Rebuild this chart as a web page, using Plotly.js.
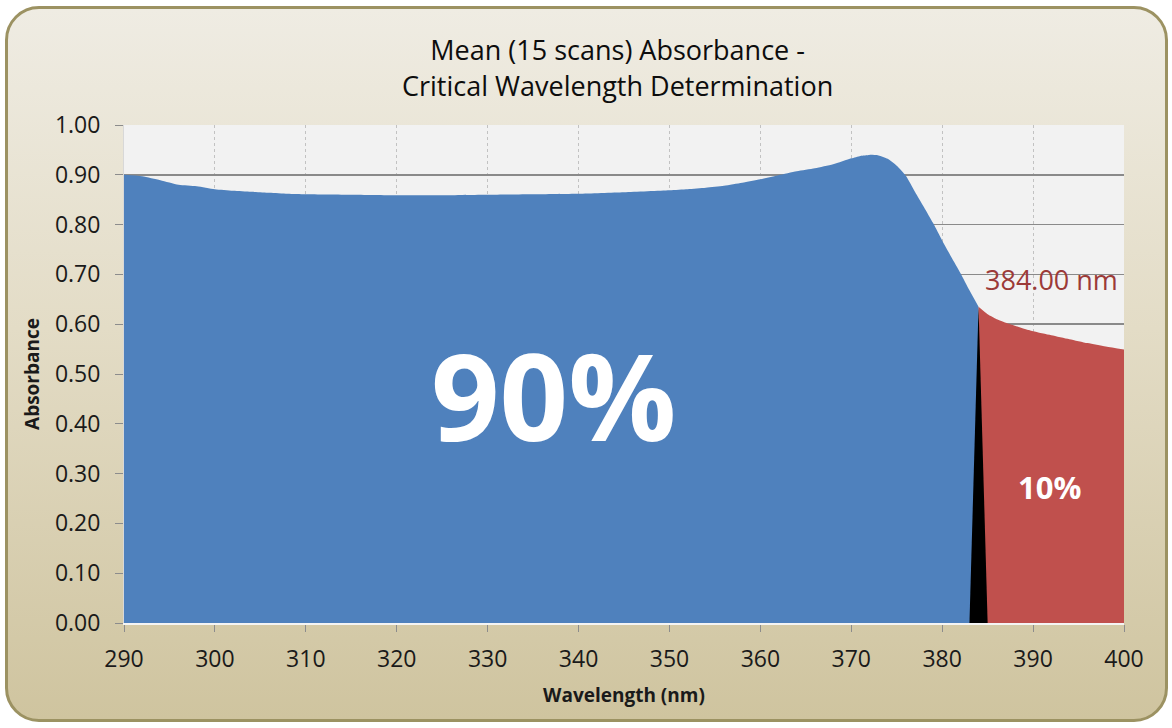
<!DOCTYPE html>
<html>
<head>
<meta charset="utf-8">
<script src="https://cdn.plot.ly/plotly-3.0.1.min.js"></script>
<style>
  html, body { margin:0; padding:0; width:1172px; height:728px; overflow:hidden; background:#ffffff; }
  #frame { position:absolute; left:5px; top:6px; width:1157px; height:710px;
           border:3px solid #9c9262; border-radius:34px;
           background:linear-gradient(to bottom, #efece3 0%, #e3dcc6 45%, #cfc49f 100%); }
  #chart { position:absolute; left:0; top:0; width:1172px; height:728px; }
</style>
</head>
<body>
<div id="frame"></div>
<div id="chart"></div>
<script>
// Wavelength (nm) and mean absorbance
const wavelength = [290,292,294,296,298,300,302,304,306,308,310,315,320,325,330,335,340,345,350,352,354,356,358,360,362,364,366,368,370,371,372,373,374,375,376,377,378,379,380,381,382,383,384,385,386,387,388,389,390,392,394,396,398,400];
const absorbance = [0.900,0.897,0.889,0.880,0.877,0.871,0.868,0.866,0.864,0.862,0.861,0.860,0.859,0.859,0.860,0.861,0.862,0.865,0.869,0.871,0.874,0.878,0.884,0.891,0.899,0.907,0.913,0.921,0.933,0.938,0.940,0.939,0.932,0.918,0.898,0.866,0.835,0.803,0.768,0.735,0.703,0.668,0.635,0.620,0.610,0.603,0.597,0.591,0.586,0.578,0.570,0.562,0.555,0.549];
const criticalWavelength = 384;
const markerWavelengths = [383, 384, 385];
const xTicks = [290,300,310,320,330,340,350,360,370,380,390,400];
const yTicks = [0,0.1,0.2,0.3,0.4,0.5,0.6,0.7,0.8,0.9,1.0];
const yTickLabels = ["0.00","0.10","0.20","0.30","0.40","0.50","0.60","0.70","0.80","0.90","1.00"];
const labelBelow = "90%";
const labelAbove = "10%";
const critLabel = "384.00 nm";

const blueX = [], blueY = [], redX = [], redY = [];
wavelength.forEach((w, i) => {
  if (w <= criticalWavelength) { blueX.push(w); blueY.push(absorbance[i]); }
  if (w >= criticalWavelength) { redX.push(w); redY.push(absorbance[i]); }
});
const critValue = absorbance[wavelength.indexOf(criticalWavelength)];
const markX = markerWavelengths;
const markY = markerWavelengths.map(w => w === criticalWavelength ? critValue : 0);

const traces = [
  { x: blueX, y: blueY, type:'scatter', mode:'lines', fill:'tozeroy',
    line:{color:'#4f81bd', width:0, shape:'spline', smoothing:0.6}, fillcolor:'#4f81bd', hoverinfo:'skip' },
  { x: redX, y: redY, type:'scatter', mode:'lines', fill:'tozeroy',
    line:{color:'#c0504d', width:0, shape:'spline', smoothing:0.6}, fillcolor:'#c0504d', hoverinfo:'skip' },
  { x: markX, y: markY, type:'scatter', mode:'lines', fill:'toself',
    line:{color:'#000000', width:0}, fillcolor:'#000000', hoverinfo:'skip' }
];

const font = "'Open Sans', 'Noto Sans', sans-serif";
const layout = {
  width:1172, height:728,
  margin:{l:124, r:48, t:125, b:105},
  paper_bgcolor:'rgba(0,0,0,0)',
  plot_bgcolor:'#f2f2f2',
  showlegend:false,
  title:{ text:'Mean (15 scans) Absorbance -<br>Critical Wavelength Determination',
          font:{family:font, size:27, color:'#0d0d0d'},
          x:0.527, xref:'container', xanchor:'center',
          y:0.917, yref:'container', yanchor:'middle' },
  xaxis:{ range:[290,400], tickvals:xTicks, ticktext:xTicks.map(String),
          ticks:'outside', ticklen:7, tickcolor:'#8c8c8c', tickwidth:1,
          showgrid:true, gridcolor:'#c2c2c2', griddash:'dot', gridwidth:1,
          showline:true, linecolor:'#f4f4f4', linewidth:2,
          zeroline:false, ticklabelstandoff:7,
          tickfont:{family:font, size:23, color:'#1a1a1a'},
          title:{text:'Wavelength (nm)', font:{family:font, size:19, color:'#1a1a1a', weight:'bold'}, standoff:16} },
  yaxis:{ range:[0,1.0], tickvals:yTicks, ticktext:yTickLabels,
          ticks:'outside', ticklen:8, tickcolor:'#8c8c8c', tickwidth:1,
          showgrid:true, gridcolor:'#8a8a8a', gridwidth:1.6,
          showline:true, linecolor:'#d8d8d8', linewidth:1,
          zeroline:false, ticklabelstandoff:10,
          tickfont:{family:font, size:23, color:'#1a1a1a'},
          title:{text:'Absorbance', font:{family:font, size:19, color:'#1a1a1a', weight:'bold'}, standoff:10} },
  annotations:[
    { x:337.2, y:0.458, xref:'x', yref:'y', text:labelBelow, showarrow:false,
      font:{family:font, size:120, color:'#ffffff', weight:'bold'}, xanchor:'center', yanchor:'middle' },
    { x:391.8, y:0.273, xref:'x', yref:'y', text:labelAbove, showarrow:false,
      font:{family:font, size:31, color:'#ffffff', weight:'bold'}, xanchor:'center', yanchor:'middle' },
    { x:384.5, y:0.689, xref:'x', yref:'y', text:critLabel, showarrow:false,
      font:{family:font, size:27, color:'#9c3a38'}, xanchor:'left', yanchor:'middle' }
  ]
};

Plotly.newPlot('chart', traces, layout, {displayModeBar:false, staticPlot:true});
</script>
</body>
</html>
